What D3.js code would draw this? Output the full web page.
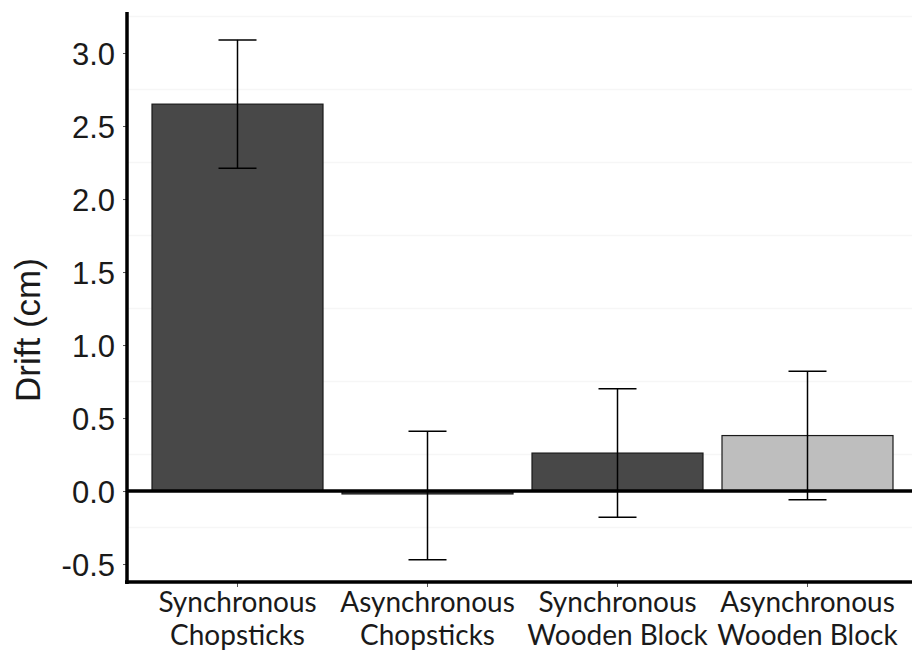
<!DOCTYPE html>
<html>
<head>
<meta charset="utf-8">
<script src="https://cdn.jsdelivr.net/npm/d3@7"></script>
<style>
  body { margin: 0; background: #fff; }
  svg { display: block; }
</style>
</head>
<body>
<script>
// 数据：每个条件的均值和误差线上下限
var labelTop = ["Synchronous", "Asynchronous", "Synchronous", "Asynchronous"];
var labelBottom = ["Chopsticks", "Chopsticks", "Wooden Block", "Wooden Block"];
var means = [2.65, -0.02, 0.26, 0.38];
var lower = [2.21, -0.47, -0.18, -0.06];
var upper = [3.09, 0.41, 0.70, 0.82];
var fills = ["#484848", "#484848", "#484848", "#bebebe"];
var yTicks = [-0.5, 0.0, 0.5, 1.0, 1.5, 2.0, 2.5, 3.0];
var minorGrid = [-0.25, 0.25, 0.75, 1.25, 1.75, 2.25, 2.75, 3.25];

var width = 912, height = 664;
var plot = { left: 127, right: 912, top: 12, bottom: 582 };

var svg = d3.select("body").append("svg")
    .attr("width", width).attr("height", height);

var keys = d3.range(means.length);
var x = d3.scaleBand()
    .domain(keys)
    .range([142.5, 902.5])
    .paddingInner(0.1)
    .paddingOuter(0.05);

var y = d3.scaleLinear()
    .domain([-0.623, 3.281])
    .range([plot.bottom, plot.top]);

// 很淡的网格线
svg.append("g").selectAll("line")
    .data(minorGrid)
    .enter().append("line")
    .attr("x1", plot.left).attr("x2", plot.right)
    .attr("y1", function (d) { return y(d); })
    .attr("y2", function (d) { return y(d); })
    .attr("stroke", "#f6f6f6")
    .attr("stroke-width", 1.5);

// 柱子
svg.append("g").selectAll("rect")
    .data(keys)
    .enter().append("rect")
    .attr("x", function (i) { return x(i); })
    .attr("width", x.bandwidth())
    .attr("y", function (i) { return y(Math.max(0, means[i])); })
    .attr("height", function (i) { return Math.abs(y(means[i]) - y(0)); })
    .attr("fill", function (i) { return fills[i]; })
    .attr("stroke", "#1a1a1a")
    .attr("stroke-width", 1.2);

// 零线
svg.append("line")
    .attr("x1", plot.left).attr("x2", plot.right)
    .attr("y1", y(0)).attr("y2", y(0))
    .attr("stroke", "#000").attr("stroke-width", 3.5);

// 误差线
var capHalf = 19;
var err = svg.append("g").selectAll("g")
    .data(keys)
    .enter().append("g")
    .attr("stroke", "#000")
    .attr("stroke-width", 1.5);
err.append("line")
    .attr("x1", function (i) { return x(i) + x.bandwidth() / 2; })
    .attr("x2", function (i) { return x(i) + x.bandwidth() / 2; })
    .attr("y1", function (i) { return y(upper[i]); })
    .attr("y2", function (i) { return y(lower[i]); });
err.append("line")
    .attr("x1", function (i) { return x(i) + x.bandwidth() / 2 - capHalf; })
    .attr("x2", function (i) { return x(i) + x.bandwidth() / 2 + capHalf; })
    .attr("y1", function (i) { return y(upper[i]); })
    .attr("y2", function (i) { return y(upper[i]); });
err.append("line")
    .attr("x1", function (i) { return x(i) + x.bandwidth() / 2 - capHalf; })
    .attr("x2", function (i) { return x(i) + x.bandwidth() / 2 + capHalf; })
    .attr("y1", function (i) { return y(lower[i]); })
    .attr("y2", function (i) { return y(lower[i]); });

// y轴，负号用普通连字符
var fmt = d3.format(".1f");
var yAxis = svg.append("g")
    .attr("transform", "translate(" + plot.left + ",0)")
    .call(d3.axisLeft(y).tickValues(yTicks)
        .tickFormat(function (d) { return fmt(d).replace("\u2212", "-"); })
        .tickSize(4).tickPadding(8));
yAxis.select(".domain").remove();
yAxis.selectAll(".tick line").attr("stroke", "#555").attr("stroke-width", 1);
yAxis.selectAll(".tick text")
    .attr("font-family", "Liberation Sans, Arial, sans-serif")
    .attr("font-size", 31)
    .attr("fill", "#1a1a1a")
    .attr("dy", "0.36em");
svg.append("line")
    .attr("x1", plot.left).attr("x2", plot.left)
    .attr("y1", plot.top).attr("y2", plot.bottom + 2)
    .attr("stroke", "#000").attr("stroke-width", 3.5);

// x轴
var xAxis = svg.append("g")
    .attr("transform", "translate(0," + plot.bottom + ")")
    .call(d3.axisBottom(x).tickSize(5).tickFormat(""));
xAxis.select(".domain").remove();
xAxis.selectAll(".tick line").attr("stroke", "#555").attr("stroke-width", 1);
svg.append("line")
    .attr("x1", plot.left - 2).attr("x2", plot.right)
    .attr("y1", plot.bottom).attr("y2", plot.bottom)
    .attr("stroke", "#000").attr("stroke-width", 3.5);

var xl = svg.append("g").selectAll("text")
    .data(keys)
    .enter().append("text")
    .attr("text-anchor", "middle")
    .attr("font-family", "Lato, Carlito, Calibri, sans-serif")
    .attr("font-size", 28)
    .attr("fill", "#1a1a1a")
    .attr("transform", function (i) { return "translate(" + (x(i) + x.bandwidth() / 2) + ",0)"; });
xl.append("tspan").attr("x", 0).attr("y", 612).text(function (i) { return labelTop[i]; });
xl.append("tspan").attr("x", 0).attr("y", 645).text(function (i) { return labelBottom[i]; });

// y轴标题
svg.append("text")
    .attr("transform", "translate(40,330) rotate(-90)")
    .attr("text-anchor", "middle")
    .attr("font-family", "Liberation Sans, Arial, sans-serif")
    .attr("font-size", 35)
    .attr("fill", "#1a1a1a")
    .text("Drift (cm)");
</script>
</body>
</html>
